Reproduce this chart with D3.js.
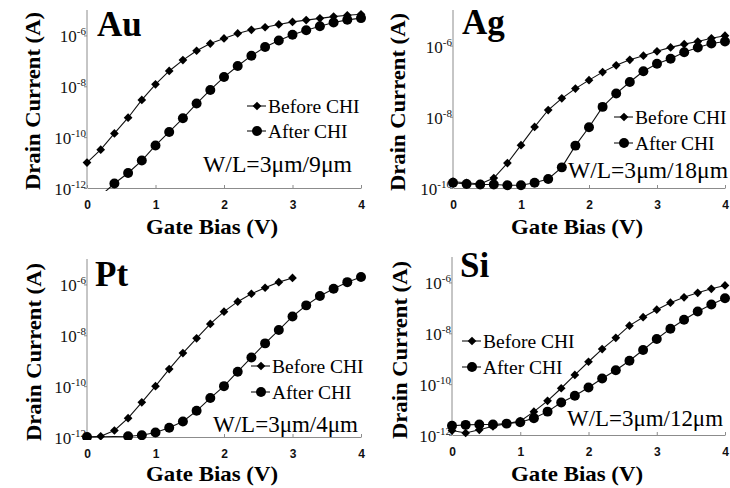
<!DOCTYPE html>
<html>
<head>
<meta charset="utf-8">
<script src="https://cdn.jsdelivr.net/npm/d3@7"></script>
<style>
  html, body { margin: 0; padding: 0; background: #fff; }
  svg { display: block; }
  .serif { font-family: "Liberation Serif", "DejaVu Serif", serif; }
  .sans { font-family: "Liberation Sans", Arial, sans-serif; }
</style>
</head>
<body>
<svg id="chart" width="730" height="488"></svg>
<script>
// ---------------- DATA ----------------
const gateBias = [0,0.2,0.4,0.6,0.8,1.0,1.2,1.4,1.6,1.8,2.0,2.2,2.4,2.6,2.8,3.0,3.2,3.4,3.6,3.8,4.0];
const xTickLabels = ["0","1","2","3","4"];
const seriesNames = ["Before CHI", "After CHI"];
const panelNames = ["Au", "Ag", "Pt", "Si"];
const wlLabels = ["W/L=3\u03bcm/9\u03bcm", "W/L=3\u03bcm/18\u03bcm", "W/L=3\u03bcm/4\u03bcm", "W/L=3\u03bcm/12\u03bcm"];

// Au
const auBeforeX = gateBias;
const auBefore = [1.0e-11,3.2e-11,1.4e-10,5.8e-10,2.9e-9,1.2e-8,4.0e-8,1.07e-7,2.5e-7,4.8e-7,7.6e-7,1.2e-6,1.66e-6,2.1e-6,2.7e-6,3.4e-6,4.0e-6,4.7e-6,5.5e-6,6.2e-6,6.8e-6];
const auAfterX = [0.2,0.4,0.6,0.8,1.0,1.2,1.4,1.6,1.8,2.0,2.2,2.4,2.6,2.8,3.0,3.2,3.4,3.6,3.8,4.0];
const auAfter = [5.0e-13,1.5e-12,3.9e-12,1.2e-11,4.7e-11,1.6e-10,5.5e-10,2.1e-9,7.2e-9,2.3e-8,6.3e-8,1.6e-7,3.5e-7,6.3e-7,1.07e-6,1.6e-6,2.3e-6,3.2e-6,4.1e-6,4.8e-6];
// Ag
const agBeforeX = gateBias;
const agBefore = [1.5e-10,1.4e-10,1.3e-10,1.9e-10,5.0e-10,1.6e-9,5.2e-9,1.55e-8,3.3e-8,6.2e-8,1.07e-7,1.8e-7,2.8e-7,4.0e-7,5.2e-7,6.9e-7,8.9e-7,1.1e-6,1.3e-6,1.6e-6,1.9e-6];
const agAfterX = gateBias;
const agAfter = [1.4e-10,1.3e-10,1.26e-10,1.25e-10,1.2e-10,1.2e-10,1.4e-10,1.8e-10,3.8e-10,1.55e-9,5.1e-9,1.9e-8,4.5e-8,9.5e-8,1.9e-7,3.1e-7,4.3e-7,6.5e-7,8.9e-7,1.15e-6,1.3e-6];
// Pt
const ptBeforeX = [0,0.2,0.4,0.6,0.8,1.0,1.2,1.4,1.6,1.8,2.0,2.2,2.4,2.6,2.8,3.0];
const ptBefore = [1.0e-12,1.07e-12,1.8e-12,5.5e-12,2.3e-11,1.0e-10,4.7e-10,2.0e-9,7.6e-9,2.8e-8,8.5e-8,2.1e-7,4.3e-7,7.4e-7,1.23e-6,1.8e-6];
const ptAfterX = [0,0.6,0.8,1.0,1.2,1.4,1.6,1.8,2.0,2.2,2.4,2.6,2.8,3.0,3.2,3.4,3.6,3.8,4.0];
const ptAfter = [1.0e-12,1.07e-12,1.17e-12,1.5e-12,2.3e-12,4.1e-12,1.07e-11,3.4e-11,1.0e-10,3.7e-10,1.35e-9,4.8e-9,1.6e-8,5.5e-8,1.5e-7,3.5e-7,6.8e-7,1.23e-6,1.95e-6];
// Si
const siBeforeX = gateBias;
const siBefore = [1.5e-12,1.2e-12,1.6e-12,2.2e-12,2.8e-12,3.5e-12,8.3e-12,2.2e-11,6.9e-11,2.3e-10,7.6e-10,2.4e-9,6.6e-9,2.0e-8,4.3e-8,8.5e-8,1.6e-7,2.6e-7,3.9e-7,5.6e-7,7.6e-7];
const siAfterX = gateBias;
const siAfter = [2.3e-12,2.5e-12,2.6e-12,2.6e-12,2.8e-12,3.2e-12,4.6e-12,8.3e-12,1.9e-11,3.5e-11,7.4e-11,1.66e-10,3.5e-10,8.3e-10,2.2e-9,6.0e-9,1.5e-8,3.4e-8,7.2e-8,1.35e-7,2.4e-7];

const yTicksA = [1e-6,1e-8,1e-10,1e-12];
const yTicksB = [1e-6,1e-8,1e-10];
const yExpA = ["-6","-8","-10","-12"];
const yExpB = ["-6","-8","-10"];

// ---------------- LAYOUT ----------------
const layout = [
  { x0:87,  x1:361, yTop:10,  yBot:188, dom:[1e-12,1e-5], ticks:yTicksA, exps:yExpA,
    bx:auBeforeX, by:auBefore, ax:auAfterX, ay:auAfter,
    title:[97,36], ylab:[40,101], xlab:[212,234], leg:[247,106,131], wl:[203,172,149] },
  { x0:453, x1:725, yTop:10,  yBot:188, dom:[1e-10,1e-5], ticks:yTicksB, exps:yExpB,
    bx:agBeforeX, by:agBefore, ax:agAfterX, ay:agAfter,
    title:[462,34], ylab:[405,102], xlab:[577,234], leg:[614,117,143], wl:[568,178,160] },
  { x0:87,  x1:361, yTop:259, yBot:437, dom:[1e-12,1e-5], ticks:yTicksA, exps:yExpA,
    bx:ptBeforeX, by:ptBefore, ax:ptAfterX, ay:ptAfter,
    title:[95,286], ylab:[41,352], xlab:[212,481], leg:[251,366,392], wl:[213,432,145] },
  { x0:452, x1:725, yTop:257, yBot:435, dom:[1e-12,1e-5], ticks:yTicksA, exps:yExpA,
    bx:siBeforeX, by:siBefore, ax:siAfterX, ay:siAfter,
    title:[460,277], ylab:[407,350], xlab:[577,481], leg:[462,341,367], wl:[567,426,156] }
];

const axisColor = "#8c8c8c";

const svg = d3.select("#chart");
const diamond = d3.symbol(d3.symbolSquare, 38)();
const circle = d3.symbol(d3.symbolCircle, 78)();

layout.forEach((p, i) => {
  const g = svg.append("g");
  const x = d3.scaleLinear().domain([0, 4]).range([p.x0, p.x1]);
  const y = d3.scaleLog().domain(p.dom).range([p.yBot, p.yTop]);

  // clip
  const cid = "clip" + i;
  svg.append("clipPath").attr("id", cid).append("rect")
    .attr("x", p.x0 - 6).attr("y", p.yTop - 6)
    .attr("width", p.x1 - p.x0 + 12).attr("height", p.yBot - p.yTop + 9);

  // axes
  const yAxis = d3.axisLeft(y).tickValues(p.ticks).tickSizeInner(3).tickSizeOuter(0).tickFormat(() => "");
  const yg = g.append("g").attr("transform", `translate(${p.x0},0)`).call(yAxis);
  yg.select(".domain").attr("d", `M0,${p.yTop}V${p.yBot}`);
  const xAxis = d3.axisBottom(x).tickValues([0,1,2,3,4]).tickSizeInner(-3).tickSizeOuter(0)
    .tickPadding(12).tickFormat((d, k) => xTickLabels[k]);
  const xg = g.append("g").attr("transform", `translate(0,${p.yBot})`).call(xAxis);
  xg.attr("font-family", null).attr("font-size", null);
  yg.attr("font-family", null).attr("font-size", null);
  [yg, xg].forEach(a => {
    a.selectAll(".domain, line").attr("stroke", axisColor).attr("stroke-width", 1);
  });
  xg.selectAll("text").attr("class", "sans").attr("font-weight", "bold")
    .attr("font-size", 12).attr("fill", "#111");

  // y tick labels 10^n
  p.ticks.forEach((t, k) => {
    const txt = g.append("text").attr("class", "serif")
      .attr("x", p.x0 - 1).attr("y", y(t) + 7)
      .attr("text-anchor", "end")
      .attr("font-size", 17).attr("fill", "#111");
    txt.append("tspan").text("10");
    txt.append("tspan").attr("font-size", 11).attr("dy", -7).text(p.exps[k]);
  });

  // series
  const line = d3.line().x(d => x(d[0])).y(d => y(d[1]));
  const before = p.bx.map((v, k) => [v, p.by[k]]);
  const after = p.ax.map((v, k) => [v, p.ay[k]]);
  const plot = g.append("g").attr("clip-path", `url(#${cid})`);
  [before, after].forEach(s => {
    plot.append("path").datum(s).attr("d", line)
      .attr("fill", "none").attr("stroke", "#111").attr("stroke-width", 1.1);
  });
  plot.selectAll(".dia").data(before.filter(d => d[1] >= p.dom[0])).enter().append("path")
    .attr("d", diamond).attr("fill", "#000")
    .attr("transform", d => `translate(${x(d[0])},${y(d[1])}) rotate(45)`);
  plot.selectAll(".cir").data(after.filter(d => d[1] >= p.dom[0])).enter().append("path")
    .attr("d", circle).attr("fill", "#000")
    .attr("transform", d => `translate(${x(d[0])},${y(d[1])})`);

  // title
  g.append("text").attr("class", "serif").attr("x", p.title[0]).attr("y", p.title[1])
    .attr("font-weight", "bold").attr("font-size", 35)
    .attr("fill", "#000").text(panelNames[i]);

  // axis titles
  g.append("text").attr("class", "serif").attr("transform", `translate(${p.ylab[0]},${p.ylab[1]}) rotate(-90)`)
    .attr("text-anchor", "middle").attr("font-weight", "bold")
    .attr("font-size", 22).attr("textLength", 178).attr("lengthAdjust", "spacingAndGlyphs")
    .attr("fill", "#000").text("Drain Current (A)");
  g.append("text").attr("class", "serif").attr("x", p.xlab[0]).attr("y", p.xlab[1])
    .attr("text-anchor", "middle").attr("font-weight", "bold")
    .attr("font-size", 21).attr("textLength", 132).attr("lengthAdjust", "spacingAndGlyphs")
    .attr("fill", "#000").text("Gate Bias (V)");

  // legend
  const lx = p.leg[0];
  [[p.leg[1], diamond, 45], [p.leg[2], circle, 0]].forEach((e, k) => {
    const ly = e[0];
    g.append("line").attr("x1", lx).attr("x2", lx + 19).attr("y1", ly).attr("y2", ly)
      .attr("stroke", "#111").attr("stroke-width", 1.1);
    g.append("path").attr("d", e[1]).attr("fill", "#000")
      .attr("transform", `translate(${lx + 10},${ly}) rotate(${e[2]})`);
    g.append("text").attr("class", "serif").attr("x", lx + 21).attr("y", ly + 6.5)
      .attr("font-size", 19.5).attr("fill", "#000")
      .text(seriesNames[k]);
  });

  // W/L annotation
  g.append("text").attr("class", "serif").attr("x", p.wl[0]).attr("y", p.wl[1])
    .attr("font-size", 23)
    .attr("textLength", p.wl[2]).attr("lengthAdjust", "spacingAndGlyphs")
    .attr("fill", "#000").text(wlLabels[i]);
});
</script>
</body>
</html>
